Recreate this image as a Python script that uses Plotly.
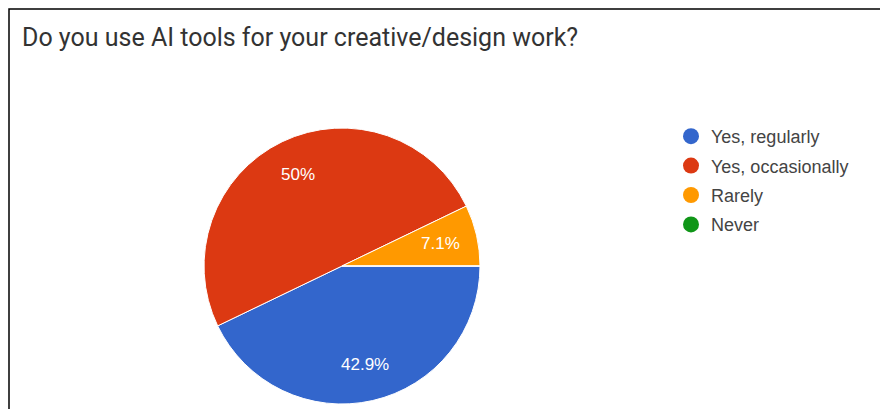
import math
import plotly.graph_objects as go

# Survey answers and response counts
answers = ["Yes, regularly", "Yes, occasionally", "Rarely", "Never"]
counts = [6, 7, 1, 0]
colors = ["#3366cc", "#dc3912", "#ff9900", "#109618"]
title_text = "Do you use AI tools for your creative/design work?"

W, H = 880, 409
# pie geometry in pixels (centre and radius)
cx_px, cy_px, r_px = 342, 266, 138
dom_x = [(cx_px - r_px) / W, (cx_px + r_px) / W]
dom_y = [(H - cy_px - r_px) / H, (H - cy_px + r_px) / H]

fig = go.Figure()
fig.add_trace(go.Pie(
    labels=answers,
    values=counts,
    marker=dict(colors=colors, line=dict(color="white", width=1)),
    sort=False,
    direction="clockwise",
    rotation=90,
    textinfo="none",
    hoverinfo="label+percent",
    showlegend=False,
    domain=dict(x=dom_x, y=dom_y),
))

# legend entries with round markers
for i, (name, col) in enumerate(zip(answers, colors)):
    fig.add_trace(go.Scatter(
        x=[None], y=[None], mode="markers", name=name,
        marker=dict(symbol="circle", size=17, color=col),
        legendgroup=f"g{i}", showlegend=True,
    ))

# percentage labels placed along each slice bisector
total = sum(counts)
start = 90.0
annotations = []
for val in counts:
    frac = val / total
    sweep = frac * 360
    if val > 0:
        mid = math.radians(start + sweep / 2)
        k = 0.735 * r_px
        x = (cx_px + k * math.sin(mid)) / W
        y = (H - cy_px + k * math.cos(mid)) / H
        pct = round(frac * 100, 1)
        label = f"{pct:g}%"
        annotations.append(dict(
            x=x, y=y, xref="paper", yref="paper", text=label, showarrow=False,
            font=dict(family="Liberation Sans, Arial", size=17, color="white"),
            xanchor="center", yanchor="middle",
        ))
    start += sweep

fig.update_layout(
    width=W, height=H,
    margin=dict(l=0, r=0, t=0, b=0),
    paper_bgcolor="white",
    plot_bgcolor="white",
    xaxis=dict(visible=False),
    yaxis=dict(visible=False),
    title=dict(
        text=title_text, x=22 / W, xanchor="left", xref="paper",
        y=1 - 37 / H, yanchor="middle", yref="container",
        font=dict(family="Roboto", size=25, color="#333333"),
    ),
    legend=dict(
        x=671 / W, y=1 - 118 / H, xanchor="left", yanchor="top",
        font=dict(family="Liberation Sans, Arial", size=18, color="#444444"),
        tracegroupgap=3, itemclick=False, bgcolor="rgba(0,0,0,0)",
    ),
    annotations=annotations,
    shapes=[dict(
        type="rect", xref="paper", yref="paper",
        x0=9 / W, x1=1.02, y0=-0.02, y1=1 - 9 / H,
        line=dict(color="black", width=1.5), fillcolor="rgba(0,0,0,0)",
        layer="below",
    )],
)

fig.write_html("out.html")
